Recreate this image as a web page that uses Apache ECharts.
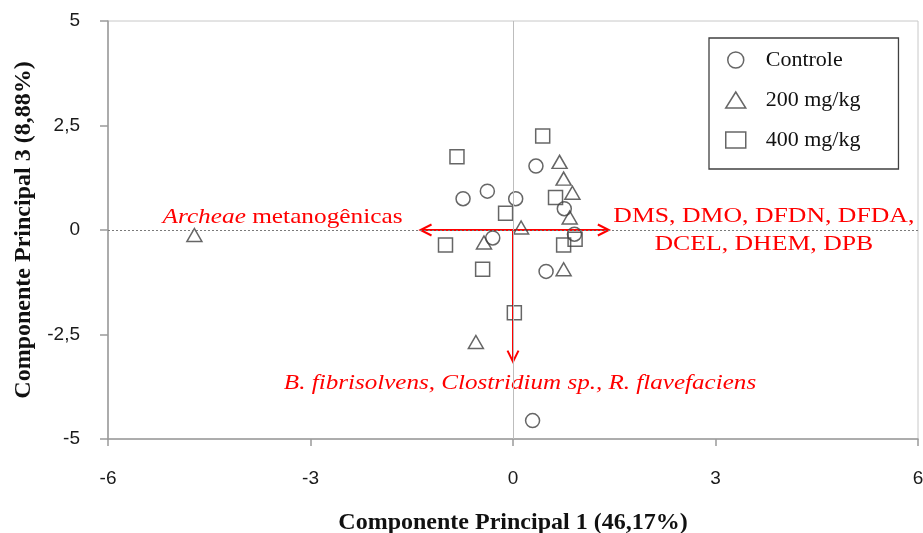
<!DOCTYPE html>
<html>
<head>
<meta charset="utf-8">
<script src="https://cdn.jsdelivr.net/npm/echarts@6/dist/echarts.min.js"></script>
<style>
  html, body { margin: 0; padding: 0; background: #ffffff; }
  #chart { width: 923px; height: 533px; }
</style>
</head>
<body>
<div id="chart"></div>
<script>
// PCA scores (PC1, PC3) per treatment group
const groupNames = ['Controle', '200 mg/kg', '400 mg/kg'];
const controle = [
  [0.34, 1.53], [-0.74, 0.75], [-0.38, 0.93], [0.04, 0.75], [0.76, 0.51],
  [-0.30, -0.19], [0.91, -0.10], [0.49, -0.99], [0.29, -4.56]
];
const dose200 = [
  [0.69, 1.63], [0.75, 1.23], [0.88, 0.89], [0.84, 0.30], [0.12, 0.06],
  [-0.43, -0.30], [0.75, -0.94], [-0.55, -2.68], [-4.72, -0.12]
];
const dose400 = [
  [0.44, 2.25], [-0.83, 1.75], [0.63, 0.78], [-0.11, 0.40], [-1.00, -0.36],
  [0.75, -0.36], [0.92, -0.22], [-0.45, -0.94], [0.02, -1.98]
];

// Variable loading vectors (arrow tips) and their captions
const loadings = [[-1.37, 0], [1.42, 0], [0, -3.15]];
const loadingLabels = [
  '{i|Archeae} {n|metanogênicas}',
  '{n|DMS, DMO, DFDN, DFDA,}\n{n|DCEL, DHEM, DPB}',
  '{i|B. fibrisolvens, Clostridium sp., R. flavefaciens}'
];

// Axis tick values
const xTicks = [-6, -3, 0, 3, 6];
const yTicks = [-5, -2.5, 0, 2.5, 5];

// Caption placement relative to each arrow tip (pixels)
const captionLayout = [
  { dx: -18, dy: -13, align: 'right', scaleX: 1.15 },
  { dx: 155, dy: 0, align: 'center', scaleX: 1.17 },
  { dx: 7, dy: 22, align: 'center', scaleX: 1.14 }
];

const RED = '#ff0000';
const SERIF = '"Liberation Serif", "Times New Roman", serif';
const SANS = '"Liberation Sans", Arial, sans-serif';
const MARK = '#404040';
const AXIS = '#9a9a9a';

const comma = v => String(v).replace('.', ',');

function renderLoading(params, api) {
  const i = params.dataIndex;
  const o = api.coord([0, 0]);
  const t = api.coord([api.value(0), api.value(1)]);
  const dx = t[0] - o[0], dy = t[1] - o[1];
  const len = Math.sqrt(dx * dx + dy * dy) || 1;
  const ux = dx / len, uy = dy / len;
  const hl = 11, hw = 5.5;
  const bx = t[0] - ux * hl, by = t[1] - uy * hl;
  const lay = captionLayout[i];
  const rich = {
    i: { fontFamily: SERIF, fontSize: 22, fontStyle: 'italic', fill: RED, lineHeight: 28 },
    n: { fontFamily: SERIF, fontSize: 22, fill: RED, lineHeight: 28 }
  };
  return {
    type: 'group',
    children: [
      {
        type: 'line',
        shape: { x1: o[0], y1: o[1], x2: t[0], y2: t[1] },
        style: { stroke: RED, lineWidth: 2 }
      },
      {
        type: 'polyline',
        shape: { points: [[bx - uy * hw, by + ux * hw], [t[0], t[1]], [bx + uy * hw, by - ux * hw]] },
        style: { stroke: RED, lineWidth: 2, fill: null }
      },
      {
        type: 'text',
        x: t[0] + lay.dx,
        y: t[1] + lay.dy,
        scaleX: lay.scaleX,
        style: {
          text: loadingLabels[i],
          rich: rich,
          fontFamily: SERIF,
          fontSize: 22,
          fill: RED,
          align: lay.align,
          verticalAlign: 'middle',
          lineHeight: 28
        }
      }
    ]
  };
}

const markerStyle = { color: 'rgba(0,0,0,0)', borderColor: MARK, borderWidth: 1.5 };

const chart = echarts.init(document.getElementById('chart'), null, { renderer: 'canvas' });
chart.setOption({
  animation: false,
  backgroundColor: '#ffffff',
  grid: {
    left: 108, right: 5, top: 21, bottom: 94,
    outerBoundsMode: 'none',
    containLabel: false,
    show: true, borderColor: '#c8c8c8', borderWidth: 1, backgroundColor: 'transparent'
  },
  legend: {
    orient: 'vertical',
    left: 709, top: 38,
    padding: [10, 38, 17, 16],
    itemGap: 16,
    itemWidth: 20,
    itemHeight: 16,
    borderColor: '#404040',
    borderWidth: 1.3,
    itemStyle: markerStyle,
    textStyle: {
      fontFamily: SERIF, fontSize: 22, color: '#111111', lineHeight: 24,
      padding: [0, 0, 0, 15]
    },
    data: [
      { name: groupNames[0], icon: 'circle' },
      { name: groupNames[1], icon: 'triangle' },
      { name: groupNames[2], icon: 'rect' }
    ]
  },
  xAxis: {
    type: 'value',
    min: xTicks[0], max: xTicks[xTicks.length - 1], interval: xTicks[1] - xTicks[0],
    name: 'Componente Principal 1 (46,17%)',
    nameLocation: 'middle',
    nameGap: 72,
    nameTextStyle: { fontFamily: SERIF, fontSize: 24, fontWeight: 'bold', color: '#111111' },
    axisLine: { show: true, onZero: false, lineStyle: { color: AXIS, width: 1.5 } },
    axisTick: { show: true, length: 7, lineStyle: { color: AXIS, width: 1.5 } },
    axisLabel: { margin: 30, fontFamily: SANS, fontSize: 19, color: '#1a1a1a', formatter: comma },
    splitLine: { show: false }
  },
  yAxis: {
    type: 'value',
    min: yTicks[0], max: yTicks[yTicks.length - 1], interval: yTicks[1] - yTicks[0],
    name: 'Componente Principal 3 (8,88%)',
    nameLocation: 'middle',
    nameGap: 72,
    nameTextStyle: { fontFamily: SERIF, fontSize: 24, fontWeight: 'bold', color: '#111111' },
    axisLine: { show: true, onZero: false, lineStyle: { color: AXIS, width: 1.5 } },
    axisTick: { show: true, length: 8, lineStyle: { color: AXIS, width: 1.5 } },
    axisLabel: { margin: 28, fontFamily: SANS, fontSize: 19, color: '#1a1a1a', formatter: comma },
    splitLine: { show: false }
  },
  series: [
    {
      name: 'zero',
      type: 'line',
      data: [],
      z: 1,
      silent: true,
      markLine: {
        silent: true,
        symbol: 'none',
        label: { show: false },
        animation: false,
        data: [
          { xAxis: 0, lineStyle: { color: '#bdbdbd', type: 'solid', width: 1 } },
          { yAxis: 0, lineStyle: { color: '#7a7a7a', type: [2, 2], width: 1 } }
        ]
      }
    },
    {
      name: 'loadings',
      type: 'custom',
      z: 3,
      silent: true,
      clip: false,
      renderItem: renderLoading,
      encode: { x: 0, y: 1 },
      data: loadings
    },
    {
      name: groupNames[0], type: 'scatter', symbol: 'circle', symbolSize: 14, z: 4,
      itemStyle: markerStyle, data: controle
    },
    {
      name: groupNames[1], type: 'scatter', symbol: 'triangle', symbolSize: [15, 13], z: 4,
      itemStyle: markerStyle, data: dose200
    },
    {
      name: groupNames[2], type: 'scatter', symbol: 'rect', symbolSize: 14, z: 4,
      itemStyle: markerStyle, data: dose400
    }
  ]
});
</script>
</body>
</html>
